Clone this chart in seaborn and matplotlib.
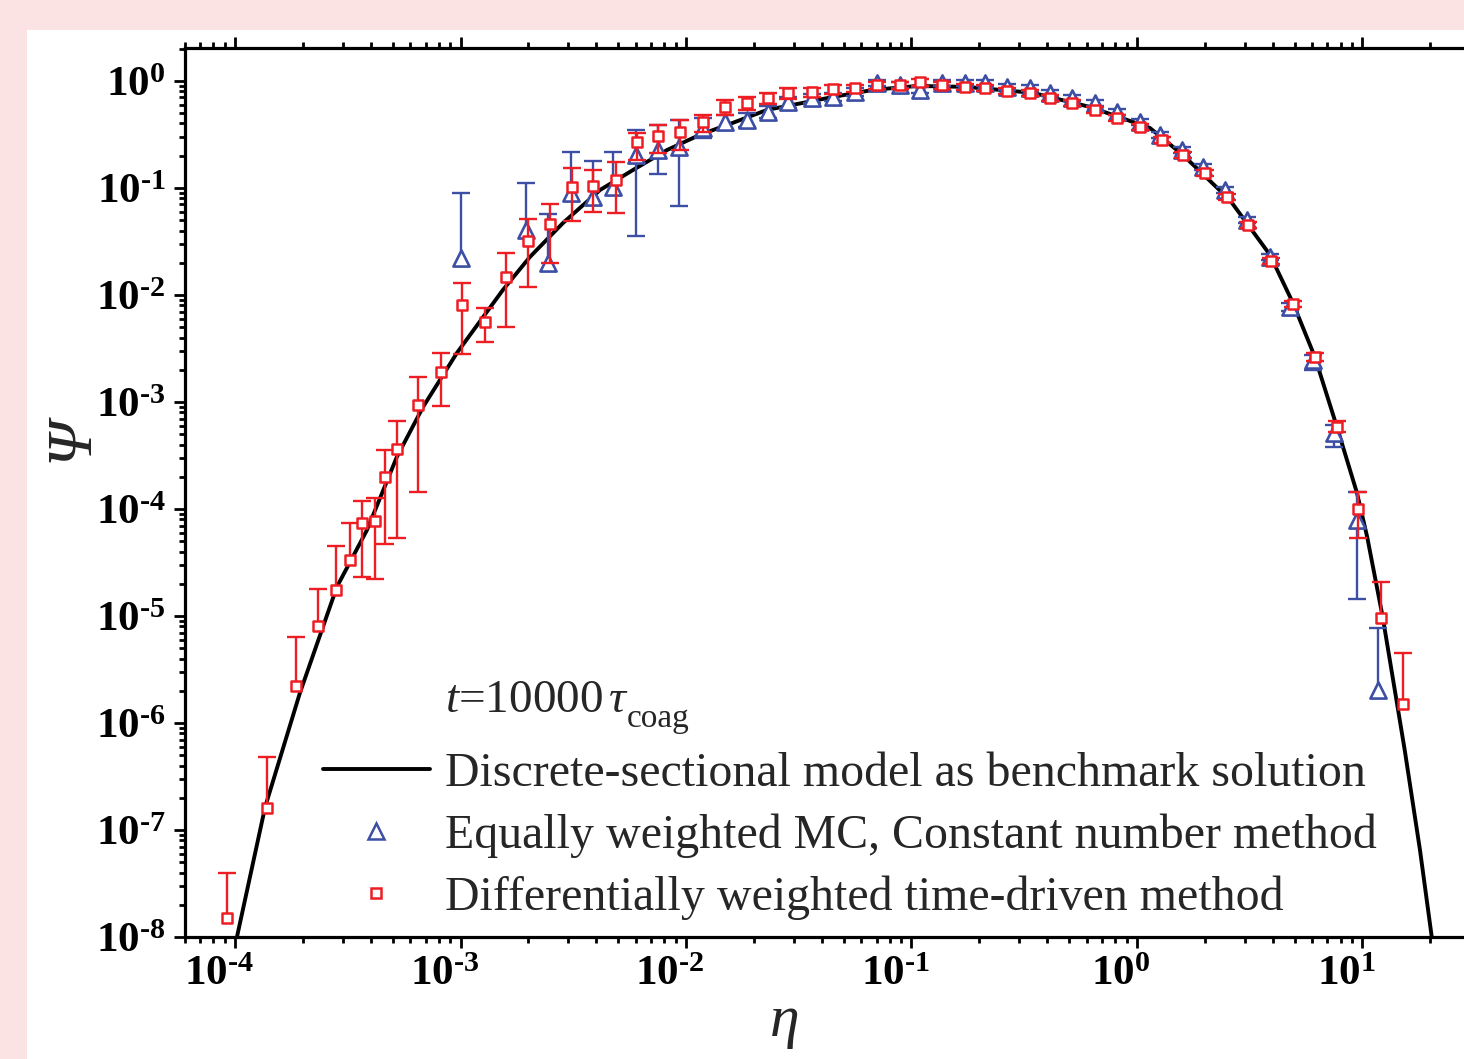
import numpy as np
import matplotlib
matplotlib.use('Agg')
import matplotlib.pyplot as plt
import matplotlib.transforms as mtransforms
from matplotlib.lines import Line2D
from matplotlib.patches import Rectangle
from matplotlib.ticker import LogLocator, FuncFormatter, NullFormatter
import seaborn as sns

# benchmark curve (discrete-sectional model)
eta_curve = [1.02e-4, 1.36e-4, 1.94e-4, 2.83e-4, 3.85e-4, 5.22e-4, 6.82e-4, 9.64e-4,
             1.54e-3, 2.03e-3, 2.85e-3, 4.16e-3, 5.82e-3, 8.24e-3, 1.15e-2, 1.61e-2,
             2.29e-2, 4.49e-2, 6.75e-2, 0.106, 0.176, 0.346, 0.619, 1.14, 1.60, 2.58,
             3.89, 4.92, 6.15, 7.71, 9.46, 10.5, 12.3, 15.4, 18.0, 20.3]
psi_curve = [1.0e-8, 1.64e-7, 1.91e-6, 1.87e-5, 6.37e-5, 3.06e-4, 8.97e-4, 2.87e-3,
             1.11e-2, 2.26e-2, 4.71e-2, 9.57e-2, 0.147, 0.226, 0.313, 0.405,
             0.536, 0.708, 0.824, 0.897, 0.879, 0.773, 0.571, 0.364, 0.203, 7.73e-2,
             2.37e-2, 8.41e-3, 2.64e-3, 5.83e-4, 1.41e-4, 5.47e-5, 9.79e-6, 5.6e-7, 6.5e-8, 1.0e-8]

# differentially weighted time-driven method (red squares)
eta_dw = [9.21e-5, 1.387e-4, 1.865e-4, 2.33e-4, 2.81e-4, 3.24e-4, 3.66e-4, 4.18e-4,
          4.63e-4, 5.23e-4, 6.48e-4, 8.19e-4, 1.016e-3, 1.285e-3, 1.59e-3, 1.99e-3,
          2.49e-3, 3.12e-3, 3.87e-3, 4.89e-3, 6.07e-3, 7.52e-3, 9.4e-3, 1.19e-2,
          1.49e-2, 1.865e-2, 2.31e-2, 2.83e-2, 3.62e-2, 4.49e-2, 5.61e-2, 7.03e-2,
          8.89e-2, 0.109, 0.1366, 0.1726, 0.2118, 0.265, 0.335, 0.411, 0.515, 0.652,
          0.815, 1.031, 1.29, 1.60, 2.00, 2.51, 3.11, 3.93, 4.92, 6.15, 7.71, 9.55, 12.1, 15.1]
psi_dw = [1.51e-8, 1.61e-7, 2.22e-6, 8.07e-6, 1.75e-5, 3.34e-5, 7.40e-5, 7.73e-5,
          1.99e-4, 3.64e-4, 9.38e-4, 1.91e-3, 8.07e-3, 5.60e-3, 1.47e-2, 3.20e-2,
          4.61e-2, 0.102, 0.104, 0.119, 0.269, 0.306, 0.334, 0.414,
          0.571, 0.623, 0.694, 0.773, 0.789, 0.842, 0.860, 0.918,
          0.918, 0.979, 0.918, 0.879, 0.860, 0.806, 0.773, 0.694, 0.623, 0.536,
          0.451, 0.371, 0.281, 0.203, 0.138, 8.24e-2, 4.51e-2, 2.08e-2, 8.24e-3, 2.64e-3, 5.84e-4, 1.0e-4, 9.58e-6, 1.51e-6]
hi_dw = [3.96e-8, 4.81e-7, 6.37e-6, 1.79e-5, 4.51e-5, 7.40e-5, 1.19e-4, 1.27e-4,
         3.56e-4, 6.64e-4, 1.71e-3, 2.87e-3, 1.29e-2, 7.57e-3, 2.47e-2, 5.13e-2,
         7.09e-2, 0.154, 0.147, 0.175, 0.327, 0.388, 0.432, 0.481,
         0.664, 0.708, 0.773, 0.860, 0.860, 0.918, 0.918, 0.979,
         0.979, 1.044, 0.979, 0.937, 0.918, 0.860, 0.824, 0.740, 0.664, 0.571,
         0.481, 0.396, 0.300, 0.217, 0.147, 8.79e-2, 4.81e-2, 2.22e-2, 8.79e-3, 2.87e-3, 6.64e-4, 1.44e-4, 2.08e-5, 4.51e-6]
lo_dw = [None, None, None, None, None, None, 2.31e-5, 2.22e-5,
         4.71e-5, 5.36e-5, 1.44e-4, 9.18e-4, 2.81e-3, 3.64e-3, 5.02e-3, 1.19e-2,
         1.99e-2, 4.92e-2, 5.97e-2, 5.84e-2, 0.183, 0.212, 0.226, 0.334,
         0.481, 0.536, 0.610, 0.679, 0.708, 0.756, 0.789, 0.842,
         0.842, 0.898, 0.842, 0.824, 0.806, 0.756, 0.724, 0.650, 0.584, 0.502,
         0.423, 0.348, 0.263, 0.191, 0.129, 7.73e-2, 4.23e-2, 1.95e-2, 7.73e-3, 2.42e-3, 5.25e-4, 5.36e-5, None, None]

# equally weighted MC, constant number method (blue triangles)
eta_ew = [1.005e-3, 1.95e-3, 2.44e-3, 3.09e-3, 3.87e-3, 4.74e-3, 6.0e-3, 7.52e-3,
          9.3e-3, 1.19e-2, 1.49e-2, 1.865e-2, 2.31e-2, 2.83e-2, 3.62e-2, 4.49e-2,
          5.61e-2, 7.03e-2, 8.89e-2, 0.109, 0.1366, 0.1726, 0.2118, 0.265, 0.335,
          0.411, 0.515, 0.652, 0.815, 1.03, 1.265, 1.58, 1.96, 2.46, 3.08, 3.89,
          4.77, 6.04, 7.48, 9.45, 11.7]
psi_ew = [2.22e-2, 4.05e-2, 1.99e-2, 8.98e-2, 8.24e-2, 0.102, 0.203, 0.226,
          0.242, 0.364, 0.414, 0.432, 0.513, 0.636, 0.694, 0.708,
          0.789, 0.958, 0.918, 0.824, 0.958, 0.958, 0.958, 0.879, 0.860,
          0.773, 0.694, 0.623, 0.513, 0.414, 0.313, 0.226, 0.157, 9.58e-2, 5.02e-2, 2.26e-2,
          7.73e-3, 2.47e-3, 5.13e-4, 7.89e-5, 2.03e-6]
hi_ew = [8.98e-2, 0.111, 5.71e-2, 0.217, 0.179, 0.217, 0.348, 0.388,
         0.432, 0.451, 0.481, 0.502, 0.584, 0.708, 0.756, 0.773,
         0.860, 1.022, 0.979, 0.879, 1.022, 1.022, 1.022, 0.937, 0.918,
         0.824, 0.740, 0.664, 0.547, 0.442, 0.334, 0.242, 0.168, 0.102, 5.36e-2, 2.42e-2,
         8.41e-3, 2.75e-3, 6.1e-4, 1.44e-4, 7.73e-6]
lo_ew = [None, None, None, None, None, None, 3.56e-2, 0.135,
         6.79e-2, 0.293, 0.348, 0.371, 0.451, 0.560, 0.623, 0.650,
         0.724, 0.898, 0.860, 0.773, 0.898, 0.898, 0.898, 0.824, 0.806,
         0.724, 0.650, 0.584, 0.481, 0.388, 0.293, 0.212, 0.147, 8.98e-2, 4.71e-2, 2.12e-2,
         7.08e-3, 1.99e-3, 3.79e-4, 1.44e-5, None]

labels = ['Discrete-sectional model as benchmark solution',
          'Equally weighted MC, Constant number method',
          'Differentially weighted time-driven method']

RED = '#ee1d24'
BLUE = '#3c4fa5'

sns.set_theme(style='ticks')
plt.rcParams['font.family'] = ['Liberation Serif', 'DejaVu Serif']
plt.rcParams['mathtext.fontset'] = 'custom'
plt.rcParams['mathtext.rm'] = 'Liberation Serif'
plt.rcParams['mathtext.it'] = 'Liberation Serif:italic'
plt.rcParams['mathtext.bf'] = 'Liberation Serif:bold'

W, H = 1464, 1059
fig = plt.figure(figsize=(W / 100, H / 100), dpi=100, facecolor='#fbe3e4')
fig.add_artist(Rectangle((27 / W, 0), 1, 1 - 30 / H, transform=fig.transFigure,
                         facecolor='white', edgecolor='none', zorder=-5))
ax = fig.add_axes([185 / W, 1 - 937 / H, 1285 / W, 889 / H])
ax.set_xscale('log')
ax.set_yscale('log')
ax.set_xlim(6.0e-5, 30)
ax.set_ylim(1e-8, 2.03)

# benchmark line
sns.lineplot(x=eta_curve, y=psi_curve, ax=ax, color='black', linewidth=2.8,
             sort=False, estimator=None, zorder=2, legend=False)


def draw_errs(eta, psi, hi, lo, color, z):
    eta = np.array(eta)
    psi = np.array(psi)
    hi = np.array(hi, dtype=float)
    lo = np.array([np.nan if v is None else v for v in lo], dtype=float)
    bottom = np.where(np.isnan(lo), psi, lo)
    ax.vlines(eta, bottom, hi, color=color, lw=1.7, zorder=z)
    ax.plot(eta, hi, ls='none', marker='_', ms=12.5, mew=1.7, color=color, zorder=z)
    ax.plot(eta, lo, ls='none', marker='_', ms=12.5, mew=1.7, color=color, zorder=z)


draw_errs(eta_ew, psi_ew, hi_ew, lo_ew, BLUE, 3)
sns.scatterplot(x=eta_ew, y=psi_ew, ax=ax, marker='^', s=135, color='white',
                edgecolor=BLUE, linewidth=1.9, zorder=4, legend=False)
draw_errs(eta_dw, psi_dw, hi_dw, lo_dw, RED, 5)
sns.scatterplot(x=eta_dw, y=psi_dw, ax=ax, marker='s', s=60, color='white',
                edgecolor=RED, linewidth=1.8, zorder=6, legend=False)


def dec_label(v, pos):
    e = int(round(np.log10(v)))
    s = str(abs(e)) if e >= 0 else '\u2010' + str(abs(e))
    return r'$\mathbf{10^{%s}}$' % s


# axes styling
ax.xaxis.set_major_locator(LogLocator(base=10, numticks=20))
ax.xaxis.set_minor_locator(LogLocator(base=10, subs=np.arange(2, 10), numticks=20))
ax.yaxis.set_major_locator(LogLocator(base=10, numticks=20))
ax.yaxis.set_minor_locator(LogLocator(base=10, subs=np.arange(2, 10), numticks=20))
ax.xaxis.set_major_formatter(FuncFormatter(dec_label))
ax.yaxis.set_major_formatter(FuncFormatter(dec_label))
ax.xaxis.set_minor_formatter(NullFormatter())
ax.yaxis.set_minor_formatter(NullFormatter())
ax.tick_params(which='both', direction='out', top=True, right=False, width=2,
               colors='black')
ax.tick_params(which='major', length=8, labelsize=31)
ax.tick_params(axis='y', which='major', pad=6)
ax.tick_params(axis='x', which='major', pad=5)
ax.tick_params(which='minor', length=4.5)
for sp in ax.spines.values():
    sp.set_linewidth(2.3)
    sp.set_color('black')
ax.spines['right'].set_visible(False)
ax.set_xlabel('')
ax.set_ylabel('')

shift = mtransforms.ScaledTranslation(-16 / 100, 0, fig.dpi_scale_trans)
for lab in ax.get_xticklabels():
    lab.set_transform(lab.get_transform() + shift)

# axis titles
fig.text(785 / W, 1 - 1022 / H, 'η', fontsize=43, style='italic',
         ha='center', va='center')
fig.text(72 / W, 1 - 440 / H, 'Ψ', fontsize=46, style='italic', rotation=90,
         ha='center', va='center')

# time annotation
fig.text(445 / W, 1 - 712 / H, r'$t$=10000$\,\tau$', fontsize=34,
         ha='left', va='baseline')
fig.text(627 / W, 1 - 727 / H, 'coag', fontsize=24, ha='left', va='baseline')

handles = [
    Line2D([], [], color='black', lw=2.8),
    Line2D([], [], ls='none', marker='^', ms=11.5, mfc='white', mec=BLUE, mew=1.8),
    Line2D([], [], ls='none', marker='s', ms=7.6, mfc='white', mec=RED, mew=1.8),
]
fig.legend(handles, labels, loc='center left', bbox_to_anchor=(323 / W, 1 - 836 / H),
           bbox_transform=fig.transFigure, frameon=False, fontsize=34.5,
           handlelength=2.23, handletextpad=0.31, labelspacing=0.36,
           borderpad=0, borderaxespad=0)

fig.savefig('out.png', dpi=100, facecolor=fig.get_facecolor())
